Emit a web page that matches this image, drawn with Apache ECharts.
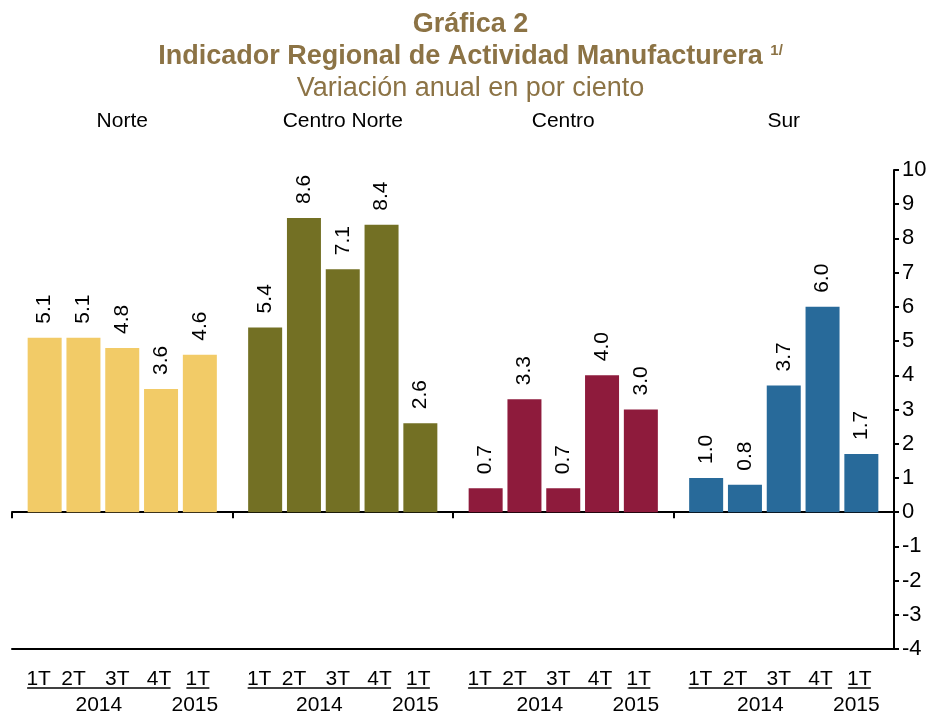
<!DOCTYPE html>
<html>
<head>
<meta charset="utf-8">
<script src="https://cdn.jsdelivr.net/npm/echarts@6/dist/echarts.min.js"></script>
<style>
  html, body { margin: 0; padding: 0; background: #fff; }
  #chart { width: 941px; height: 713px; }
</style>
</head>
<body>
<div id="chart"></div>
<script>
// datos de la gráfica
var regiones = ['Norte', 'Centro Norte', 'Centro', 'Sur'];
var trimestres = ['1T', '2T', '3T', '4T', '1T'];
var anios = ['2014', '2015'];
var norte = [5.1, 5.1, 4.8, 3.6, 4.6];
var centroNorte = [5.4, 8.6, 7.1, 8.4, 2.6];
var centro = [0.7, 3.3, 0.7, 4.0, 3.0];
var sur = [1.0, 0.8, 3.7, 6.0, 1.7];
var colores = ['#F2CB67', '#737024', '#8E1B3C', '#286A9A'];

var valores = [norte, centroNorte, centro, sur];
var FONT = '"Liberation Sans", Arial, sans-serif';
var TITLE_COLOR = '#8C7345';

var plotLeft = 12, plotRight = 894, gridTop = 170, gridBottom = 64;
var groupW = (plotRight - plotLeft) / regiones.length;
var subW = 194;
// corrimiento horizontal de las etiquetas de trimestre (como en el original)
var desplaza = [-6, -10, -5, -2, -2];

var grids = [{ left: plotLeft, width: plotRight - plotLeft, top: gridTop, bottom: gridBottom }];
var xAxes = [
  { // eje en cero con marcas entre regiones
    type: 'category', gridIndex: 0, data: regiones, position: 'bottom',
    axisLine: { onZero: true, lineStyle: { color: '#000', width: 2 } },
    axisTick: { show: true, length: 6, lineStyle: { color: '#000', width: 2 } },
    axisLabel: { show: false }
  },
  { // nombres de región arriba
    type: 'category', gridIndex: 0, data: regiones, position: 'top',
    axisLine: { show: false }, axisTick: { show: false },
    axisLabel: { margin: 38, fontSize: 21, color: '#000', fontFamily: FONT }
  },
  { // línea inferior
    type: 'category', gridIndex: 0, data: regiones, position: 'bottom',
    axisLine: { onZero: false, lineStyle: { color: '#000', width: 2 } },
    axisTick: { show: false }, axisLabel: { show: false }
  }
];
var yAxes = [{
  type: 'value', gridIndex: 0, position: 'right', min: -4, max: 10, interval: 1,
  axisLine: { show: true, lineStyle: { color: '#000', width: 2 } },
  axisTick: { show: true, length: 5, lineStyle: { color: '#000', width: 2 } },
  axisLabel: { margin: 8, fontSize: 22, color: '#000', fontFamily: FONT },
  splitLine: { show: false }
}];
var series = [];

var richQ = {};
desplaza.forEach(function (d, k) {
  richQ['q' + k] = { fontSize: 21, color: '#000', fontFamily: FONT, padding: [0, -2 * d, 0, 0] };
});

valores.forEach(function (vals, i) {
  grids.push({
    left: plotLeft + groupW * i + (groupW - subW) / 2,
    width: subW, top: gridTop, bottom: gridBottom
  });
  xAxes.push({
    type: 'category', gridIndex: i + 1, data: trimestres, position: 'bottom',
    axisLine: { show: false, onZero: false }, axisTick: { show: false },
    axisLabel: {
      margin: 20, fontSize: 21, color: '#000', fontFamily: FONT, interval: 0,
      formatter: function (v, k) { return '{q' + k + '|' + v + '}'; },
      rich: richQ
    }
  });
  yAxes.push({ type: 'value', gridIndex: i + 1, min: -4, max: 10, show: false });
  series.push({
    type: 'bar', xAxisIndex: i + 3, yAxisIndex: i + 1,
    data: vals, barWidth: 34,
    itemStyle: { color: colores[i] },
    label: {
      show: true, position: 'top', rotate: 90, distance: 14,
      align: 'left', verticalAlign: 'middle',
      fontSize: 21, color: '#000', fontFamily: FONT,
      formatter: function (p) { return p.value.toFixed(1); }
    }
  });
});

var option = {
  animation: false,
  backgroundColor: '#fff',
  title: [
    { text: 'Gráfica 2', left: 'center', top: 6,
      textStyle: { fontSize: 27, fontWeight: 'bold', color: TITLE_COLOR, fontFamily: FONT } },
    { text: 'Indicador Regional de Actividad Manufacturera {sup|1/}', left: 'center', top: 38,
      textStyle: { fontSize: 27, fontWeight: 'bold', color: TITLE_COLOR, fontFamily: FONT,
        rich: { sup: { fontSize: 15, fontWeight: 'bold', color: TITLE_COLOR, fontFamily: FONT, verticalAlign: 'top', padding: [0, 0, 12, 0] } } } },
    { text: 'Variación anual en por ciento', left: 'center', top: 70,
      textStyle: { fontSize: 27, fontWeight: 'normal', color: TITLE_COLOR, fontFamily: FONT } }
  ],
  grid: grids,
  xAxis: xAxes,
  yAxis: yAxes,
  series: series
};

var chart = echarts.init(document.getElementById('chart'));
chart.setOption(option);

// subrayado de trimestres y etiquetas de año
var graphics = [];
var lineY = 688, yearY = 705, half = 11.5;
valores.forEach(function (vals, i) {
  var c = trimestres.map(function (t, k) {
    return chart.convertToPixel({ xAxisIndex: i + 3 }, k) + desplaza[k];
  });
  var x1 = c[0] - half, x2 = c[3] + half;
  graphics.push({ type: 'line', shape: { x1: x1, y1: lineY, x2: x2, y2: lineY },
    style: { stroke: '#000', lineWidth: 1.5 } });
  graphics.push({ type: 'line', shape: { x1: c[4] - half, y1: lineY, x2: c[4] + half, y2: lineY },
    style: { stroke: '#000', lineWidth: 1.5 } });
  graphics.push({ type: 'text', x: (x1 + x2) / 2, y: yearY,
    style: { text: anios[0], fontSize: 21, fill: '#000', fontFamily: FONT, align: 'center', verticalAlign: 'middle' } });
  graphics.push({ type: 'text', x: c[4] - 3, y: yearY,
    style: { text: anios[1], fontSize: 21, fill: '#000', fontFamily: FONT, align: 'center', verticalAlign: 'middle' } });
});
chart.setOption({ graphic: graphics });
</script>
</body>
</html>
